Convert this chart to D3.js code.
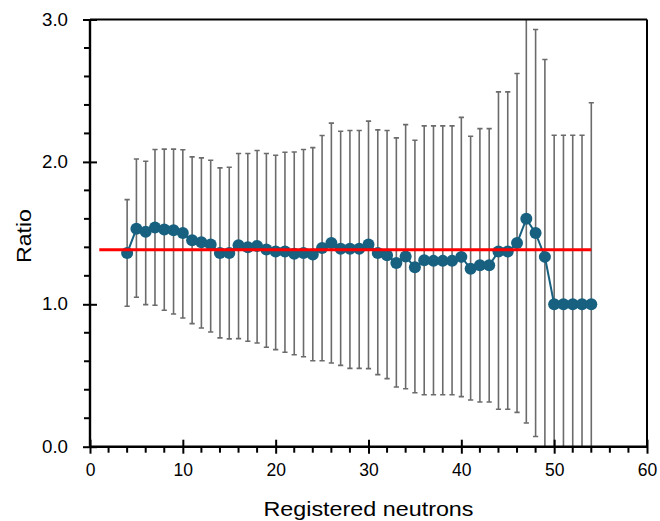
<!DOCTYPE html>
<html>
<head>
<meta charset="utf-8">
<script src="https://cdn.jsdelivr.net/npm/d3@7"></script>
<style>
  html, body { margin: 0; padding: 0; background: #fff; }
  svg text { font-family: "Liberation Sans", Arial, sans-serif; fill: #000; }
</style>
</head>
<body>
<svg id="chart" width="660" height="521"></svg>
<script>
// ---- data ----
const neutrons = [4,5,6,7,8,9,10,11,12,13,14,15,16,17,18,19,20,21,22,23,24,25,26,27,28,29,30,31,32,33,34,35,36,37,38,39,40,41,42,43,44,45,46,47,48,49,50,51,52,53,54];
const ratio = [1.36,1.53,1.51,1.54,1.525,1.52,1.50,1.45,1.435,1.42,1.36,1.36,1.415,1.40,1.41,1.385,1.37,1.37,1.355,1.36,1.35,1.395,1.43,1.39,1.39,1.39,1.42,1.36,1.345,1.29,1.335,1.26,1.31,1.305,1.305,1.305,1.333,1.25,1.274,1.274,1.37,1.37,1.43,1.60,1.50,1.333,1.0,1.0,1.0,1.0,1.0];
const upper = [1.735,2.02,2.005,2.087,2.09,2.09,2.085,2.035,2.028,2.012,1.958,1.962,2.059,2.059,2.08,2.059,2.047,2.068,2.07,2.087,2.10,2.185,2.272,2.215,2.22,2.22,2.286,2.225,2.22,2.169,2.262,2.152,2.253,2.253,2.253,2.253,2.313,2.18,2.234,2.234,2.492,2.492,2.621,3.1,2.93,2.719,2.187,2.187,2.187,2.187,2.415];
const lower = [0.986,1.049,0.998,0.993,0.958,0.932,0.904,0.864,0.834,0.806,0.764,0.757,0.759,0.74,0.728,0.698,0.682,0.663,0.646,0.632,0.604,0.604,0.588,0.571,0.55,0.55,0.548,0.506,0.478,0.419,0.407,0.379,0.365,0.365,0.365,0.365,0.352,0.328,0.314,0.314,0.263,0.263,0.241,0.166,0.072,-0.2,-0.2,-0.2,-0.2,-0.2,-0.2];
const refLineX = [1, 54];
const refLineY = [1.383, 1.383];
const xTicks = [0,10,20,30,40,50,60];
const xMinor = [2,4,6,8,12,14,16,18,22,24,26,28,32,34,36,38,42,44,46,48,52,54,56,58];
const yTicks = [0,1,2,3];
const yMinor = [0.2,0.4,0.6,0.8,1.2,1.4,1.6,1.8,2.2,2.4,2.6,2.8];
const xTitle = "Registered neutrons";
const yTitle = "Ratio";

// ---- chart ----
const svg = d3.select("#chart");
const L = 90, R = 647, T = 19.5, B = 446.7;
const x = d3.scaleLinear().domain([0, 60]).range([L, R]);
const y = d3.scaleLinear().domain([0, 3]).range([B, T]);

svg.append("defs").append("clipPath").attr("id", "clip")
  .append("rect").attr("x", L).attr("y", T).attr("width", R - L).attr("height", B - T);

const data = neutrons.map((n, i) => ({ n, v: ratio[i], hi: upper[i], lo: lower[i] }));

// error bars
const eb = svg.append("g").attr("clip-path", "url(#clip)");
const errColor = "#6b6b6b";
eb.selectAll("line.v").data(data).join("line")
  .attr("x1", d => x(d.n)).attr("x2", d => x(d.n))
  .attr("y1", d => y(d.hi)).attr("y2", d => y(d.lo))
  .attr("stroke", errColor).attr("stroke-width", 1.6);
eb.selectAll("line.hc").data(data).join("line")
  .attr("x1", d => x(d.n) - 2.6).attr("x2", d => x(d.n) + 2.6)
  .attr("y1", d => y(d.hi)).attr("y2", d => y(d.hi))
  .attr("stroke", errColor).attr("stroke-width", 1.6);
svg.append("g").attr("clip-path", "url(#clip)").selectAll("line").data(data.filter(d => d.lo >= 0)).join("line")
  .attr("x1", d => x(d.n) - 2.6).attr("x2", d => x(d.n) + 2.6)
  .attr("y1", d => y(d.lo)).attr("y2", d => y(d.lo))
  .attr("stroke", errColor).attr("stroke-width", 1.6);

// series line + markers
const blue = "#17607f";
svg.append("path").datum(data)
  .attr("d", d3.line().x(d => x(d.n)).y(d => y(d.v)))
  .attr("fill", "none").attr("stroke", blue).attr("stroke-width", 2);
svg.append("g").selectAll("circle").data(data).join("circle")
  .attr("cx", d => x(d.n)).attr("cy", d => y(d.v)).attr("r", 6)
  .attr("fill", blue);

// reference line
svg.append("line")
  .attr("x1", x(refLineX[0])).attr("x2", x(refLineX[1]))
  .attr("y1", y(refLineY[0])).attr("y2", y(refLineY[1]))
  .attr("stroke", "#ff0000").attr("stroke-width", 3);

// frame (top & right)
svg.append("line").attr("x1", L).attr("x2", R).attr("y1", T).attr("y2", T).attr("stroke", "#000").attr("stroke-width", 2);
svg.append("line").attr("x1", R).attr("x2", R).attr("y1", T).attr("y2", B).attr("stroke", "#000").attr("stroke-width", 2);

// x axis
const xAxis = svg.append("g").attr("transform", `translate(0,${B})`)
  .call(d3.axisBottom(x).tickValues(xTicks).tickFormat(d3.format("d")).tickSize(7).tickPadding(10));
xAxis.select(".domain").attr("stroke", "#000").attr("stroke-width", 2.4).attr("d", `M${L},0H${R}`);
xAxis.selectAll(".tick line").attr("y1", -7).attr("y2", 7).attr("stroke", "#000").attr("stroke-width", 2);
xAxis.selectAll(".tick text").attr("font-size", 17.5).style("font-family", '"Liberation Sans", Arial, sans-serif');
xAxis.selectAll("line.minor").data(xMinor).join("line").attr("class", "minor")
  .attr("x1", d => x(d)).attr("x2", d => x(d)).attr("y1", 0).attr("y2", 6)
  .attr("stroke", "#000").attr("stroke-width", 2);

// y axis
const yAxis = svg.append("g").attr("transform", `translate(${L},0)`)
  .call(d3.axisLeft(y).tickValues(yTicks).tickFormat(d3.format(".1f")).tickSize(7).tickPadding(15));
yAxis.select(".domain").attr("stroke", "#000").attr("stroke-width", 2.4).attr("d", `M0,${B}V${T}`);
yAxis.selectAll(".tick line").attr("x1", -7).attr("x2", 7).attr("stroke", "#000").attr("stroke-width", 2);
yAxis.selectAll(".tick text").attr("font-size", 17.5).attr("textLength", 26).attr("lengthAdjust", "spacingAndGlyphs")
  .style("font-family", '"Liberation Sans", Arial, sans-serif');
yAxis.selectAll("line.minor").data(yMinor).join("line").attr("class", "minor")
  .attr("x1", -6).attr("x2", 0).attr("y1", d => y(d)).attr("y2", d => y(d))
  .attr("stroke", "#000").attr("stroke-width", 2);

// titles
svg.append("text").attr("x", x(30)).attr("y", 516)
  .attr("text-anchor", "middle").attr("font-size", 21)
  .attr("textLength", 210).attr("lengthAdjust", "spacingAndGlyphs").text(xTitle);
svg.append("text").attr("transform", `translate(31,236) rotate(-90)`)
  .attr("text-anchor", "middle").attr("font-size", 20)
  .attr("textLength", 54).attr("lengthAdjust", "spacingAndGlyphs").text(yTitle);
</script>
</body>
</html>
